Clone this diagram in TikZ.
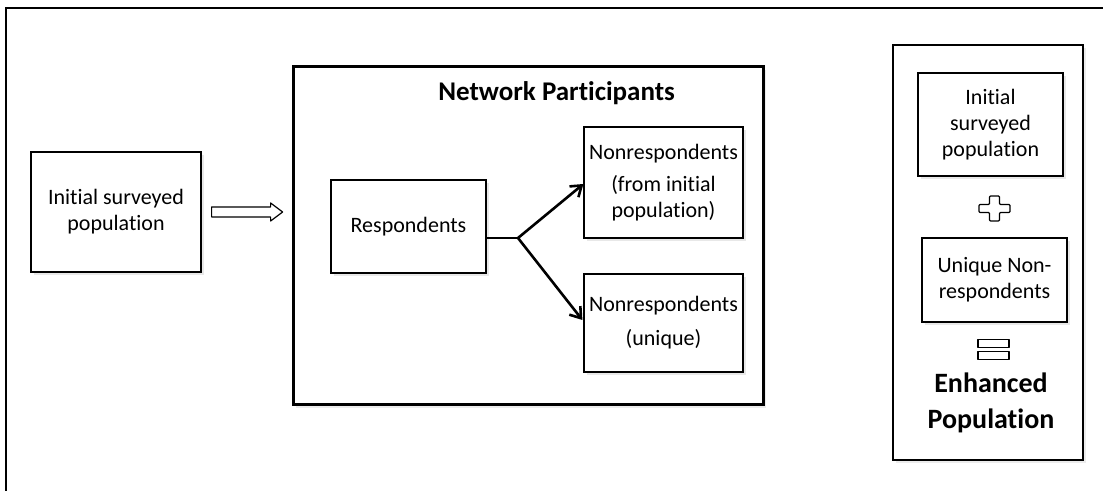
\documentclass[tikz,border=0pt]{standalone}
\usepackage{fontspec}
\setmainfont[Ligatures=NoCommon]{Carlito}
\usetikzlibrary{shadows,arrows.meta,calc}

\tikzset{
  box/.style={draw, line width=0.6pt, fill=white, align=center,
    font=\fontsize{11}{13}\selectfont, inner sep=2pt,
    drop shadow={opacity=0.18, shadow xshift=1.5pt, shadow yshift=-1.5pt}},
  frame/.style={draw, fill=white,
    drop shadow={opacity=0.15, shadow xshift=1.5pt, shadow yshift=-1.5pt}},
  branch/.style={line width=1.3pt, -{Straight Barb[length=5pt,width=7pt,line width=1.3pt]}},
  hollow/.style={draw, line width=0.6pt, fill=white, line join=round}
}

\begin{document}
\begin{tikzpicture}[x=0.5pt,y=-0.5pt]
  \useasboundingbox (0,0) rectangle (1103,491);
  % outer frame (only top and left edges show)
  \draw[line width=1pt] (6,491) -- (6,8) -- (1103,8);

  % left: the surveyed population
  \node[box, minimum width=85pt, minimum height=60pt] (init) at (116,212)
    {Initial surveyed\\population};

  % middle: network participants
  \node[frame, line width=1.5pt, minimum width=235pt, minimum height=169pt] (net) at (528,236) {};
  \node[anchor=west, inner sep=0pt, font=\fontsize{13.5}{16}\selectfont\bfseries] (title) at (438,93)
    {Network Participants};
  \node[box, minimum width=77.5pt, minimum height=46.5pt] (resp) at (408.5,226.5) {Respondents};
  \node[box, minimum width=79.5pt, minimum height=55.5pt] (nonA) at (663.5,182.5)
    {Nonrespondents\\[3pt](from initial\\population)};
  \node[box, minimum width=79.5pt, minimum height=49pt] (nonB) at (663.5,323)
    {Nonrespondents\\[4pt](unique)};

  \coordinate (split) at (518,238);
  \draw[line width=1.3pt] ($(resp.east)+(0,11.5)$) -- (split);
  \draw[branch] (split) -- ($(nonA.west)+(0,1.5)$);
  \draw[branch] (split) -- ($(nonB.west)+(-1,-3)$);

  % hollow arrow into the network box
  \coordinate (arr) at ($(init.east)+(10,0)$);
  \draw[hollow, shift={(arr)}] (0,-5) -- (59,-5) -- (59,-9) -- (71,0)
    -- (59,9) -- (59,5) -- (0,5) -- cycle;

  % right: enhanced population panel
  \node[frame, line width=0.8pt, minimum width=95pt, minimum height=207.5pt] (panel) at (988,252.5) {};
  \node[box, minimum width=72.5pt, minimum height=51.5pt] (rinit) at (990.5,124.5)
    {Initial\\surveyed\\population};
  \node[box, minimum width=72.5pt, minimum height=42pt] (runiq) at (994.5,280)
    {Unique Non-\\respondents};

  \coordinate (plus) at (994.5,208.5);
  \draw[hollow, rounded corners=0.5pt, shift={(plus)}]
    (-5,-12.5) -- (5,-12.5) -- (5,-4) -- (15.5,-4) -- (15.5,4) -- (5,4)
    -- (5,12.5) -- (-5,12.5) -- (-5,4) -- (-15.5,4) -- (-15.5,-4) -- (-5,-4) -- cycle;

  \coordinate (equal) at (993.5,349.5);
  \foreach \dy in {-6,6}
    \draw[hollow, shift={(equal)}] (-15.5,\dy-4) rectangle (15.5,\dy+4);

  \node[align=center, font=\fontsize{14}{18}\selectfont\bfseries] (enh) at (991,403)
    {Enhanced\\Population};
\end{tikzpicture}
\end{document}
